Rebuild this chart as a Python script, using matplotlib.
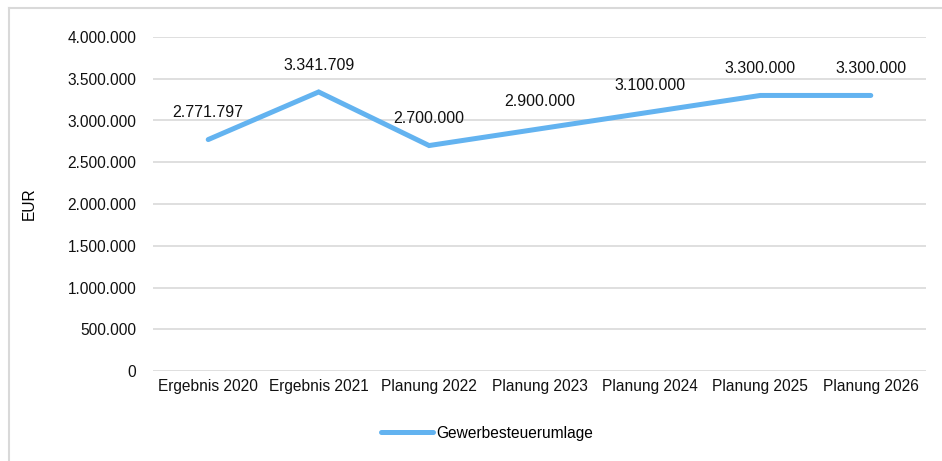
import matplotlib.pyplot as plt
from matplotlib.lines import Line2D
from matplotlib.ticker import FuncFormatter

plt.rcParams['font.family'] = ['Liberation Sans', 'DejaVu Sans']

categories = ["Ergebnis 2020", "Ergebnis 2021", "Planung 2022", "Planung 2023",
              "Planung 2024", "Planung 2025", "Planung 2026"]
values = [2771797, 3341709, 2700000, 2900000, 3100000, 3300000, 3300000]
series_name = "Gewerbesteuerumlage"
y_ticks = [0, 500000, 1000000, 1500000, 2000000, 2500000, 3000000, 3500000, 4000000]


def de_fmt(v, pos=None):
    return f"{int(round(v)):,}".replace(",", ".")


fig = plt.figure(figsize=(9.42, 4.61), dpi=100)
ax = fig.add_axes([153 / 942, 1 - 371 / 461, (926 - 153) / 942, (371 - 37) / 461])

x = list(range(len(categories)))
ax.plot(x, values, color='#63B3F0', linewidth=3.6, solid_capstyle='round',
        solid_joinstyle='miter', label=series_name, zorder=3)

for xi, v in zip(x, values):
    ax.annotate(de_fmt(v), (xi, v), xytext=(0, 14), textcoords='offset points',
                ha='center', va='bottom', fontsize=11.5, color='#111111')

ax.set_xlim(-0.5, len(categories) - 0.5)
ax.set_ylim(0, 4000000)
ax.set_yticks(y_ticks)
ax.yaxis.set_major_formatter(FuncFormatter(de_fmt))
ax.set_xticks(x)
ax.set_xticklabels(categories)
ax.grid(axis='y', color='#D9D9D9', linewidth=1.2)
ax.set_axisbelow(True)
for s in ax.spines.values():
    s.set_visible(False)
ax.tick_params(length=0, labelsize=11.2, colors='#111111')
ax.tick_params(axis='y', pad=12)
ax.tick_params(axis='x', pad=6)
ax.set_ylabel("EUR", fontsize=11.2, labelpad=22)

ax.legend(loc='center', bbox_to_anchor=(487 / 942, 1 - 433 / 461),
          bbox_transform=fig.transFigure, frameon=False, fontsize=11.2,
          handlelength=3.4, handletextpad=0.2)

# light frame (left and top edges visible)
fig.add_artist(Line2D([8.5 / 942, 8.5 / 942], [0, 1 - 8.5 / 461], color='#D9D9D9', lw=1.5))
fig.add_artist(Line2D([8.5 / 942, 1], [1 - 8.5 / 461, 1 - 8.5 / 461], color='#D9D9D9', lw=1.5))

fig.savefig("out.png", dpi=100)
